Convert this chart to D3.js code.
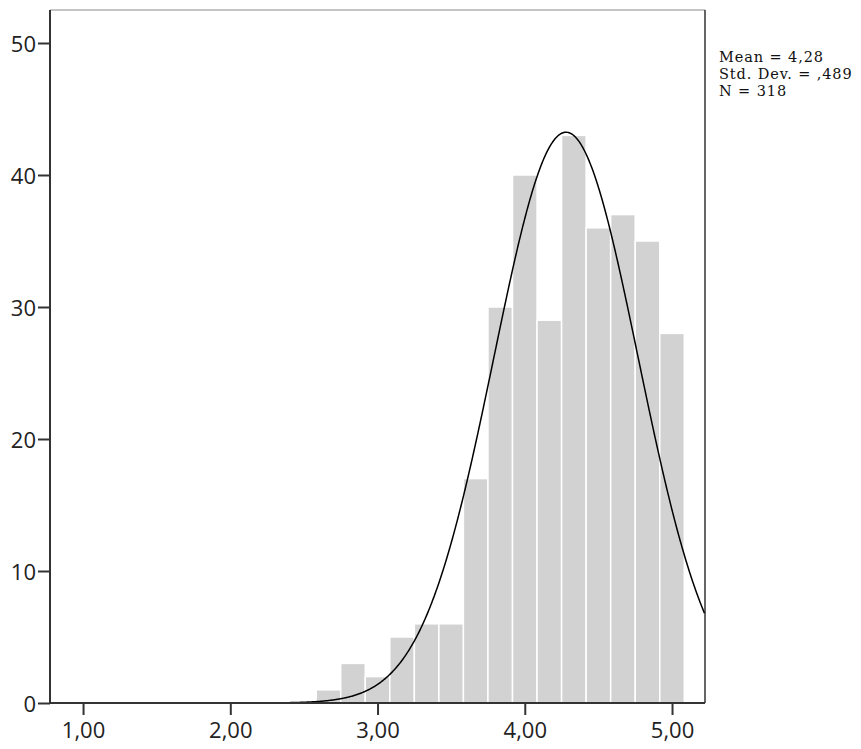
<!DOCTYPE html>
<html>
<head>
<meta charset="utf-8">
<script src="https://cdn.jsdelivr.net/npm/d3@7"></script>
<style>
  html, body { margin: 0; padding: 0; background: #fff; }
  svg { display: block; }
</style>
</head>
<body>
<svg id="chart" width="861" height="749"></svg>
<script>
// Histogram bins (width 1/6) and their frequencies
const binStarts = [2.5833, 2.75, 2.9167, 3.0833, 3.25, 3.4167, 3.5833, 3.75, 3.9167, 4.0833, 4.25, 4.4167, 4.5833, 4.75, 4.9167];
const binWidth = 1 / 6;
const counts = [1, 3, 2, 5, 6, 6, 17, 30, 40, 29, 43, 36, 37, 35, 28];

// Summary statistics for the fitted normal curve
const mean = 4.28;
const stdDev = 0.489;
const n = 318;

// Axis tick values and labels
const xTicks = [1, 2, 3, 4, 5];
const yTicks = [0, 10, 20, 30, 40, 50];
const statLines = ["Mean = 4,28", "Std. Dev. = ,489", "N = 318"];

const svg = d3.select("#chart");
const plotLeft = 50, plotRight = 705, plotTop = 10, plotBottom = 703;

const x = d3.scaleLinear().domain([0.7755, 5.224]).range([plotLeft, plotRight]);
const y = d3.scaleLinear().domain([0, 50]).range([plotBottom, 43]);

// Frame
svg.append("line").attr("x1", plotLeft).attr("x2", plotRight).attr("y1", plotTop).attr("y2", plotTop)
  .attr("stroke", "#8a8a8a").attr("stroke-width", 1);
svg.append("line").attr("x1", plotRight).attr("x2", plotRight).attr("y1", plotTop).attr("y2", plotBottom)
  .attr("stroke", "#333").attr("stroke-width", 1.5);

// Bars
svg.append("g").selectAll("rect")
  .data(counts)
  .join("rect")
  .attr("x", (d, i) => x(binStarts[i]))
  .attr("width", (d, i) => x(binStarts[i] + binWidth) - x(binStarts[i]))
  .attr("y", d => y(d))
  .attr("height", d => y(0) - y(d))
  .attr("fill", "#d2d2d2")
  .attr("stroke", "#ffffff")
  .attr("stroke-width", 1.5);

// Fitted normal curve, scaled to counts per bin
const scale = n * binWidth;
const pdf = v => scale * Math.exp(-0.5 * ((v - mean) / stdDev) ** 2) / (stdDev * Math.sqrt(2 * Math.PI));
const curvePts = d3.range(0.7755, 5.2241, 0.005).map(v => [v, pdf(v)]);
svg.append("path")
  .datum(curvePts)
  .attr("fill", "none")
  .attr("stroke", "#000")
  .attr("stroke-width", 1.5)
  .attr("d", d3.line().x(d => x(d[0])).y(d => y(d[1])));

// Axes
const font = "'Open Sans', sans-serif";
const yAxis = svg.append("g").attr("transform", `translate(${plotLeft},0)`)
  .call(d3.axisLeft(y).tickValues(yTicks).tickSize(12).tickPadding(2).tickFormat(d3.format("d")));
const xAxis = svg.append("g").attr("transform", `translate(0,${plotBottom})`)
  .call(d3.axisBottom(x).tickValues(xTicks).tickSize(12).tickPadding(7).tickFormat(d => d.toFixed(2).replace(".", ",")));

[yAxis, xAxis].forEach(g => {
  g.select(".domain").attr("stroke", "#333").attr("stroke-width", 2);
  g.selectAll(".tick line").attr("stroke", "#333").attr("stroke-width", 2);
  g.selectAll(".tick text").attr("fill", "#222").attr("font-family", font).attr("font-size", 22);
});
yAxis.selectAll(".tick text").attr("dy", "0.4em");
yAxis.select(".domain").attr("d", `M0,${plotBottom}V${plotTop}`);
xAxis.select(".domain").attr("d", `M${plotLeft},0H${plotRight}`);

// Statistics block
svg.append("g").selectAll("text")
  .data(statLines)
  .join("text")
  .attr("x", 719)
  .attr("y", (d, i) => 62 + i * 17)
  .attr("font-family", "'DejaVu Serif', serif")
  .attr("font-size", 14.5)
  .attr("letter-spacing", 0.9)
  .attr("fill", "#111")
  .text(d => d);
</script>
</body>
</html>
